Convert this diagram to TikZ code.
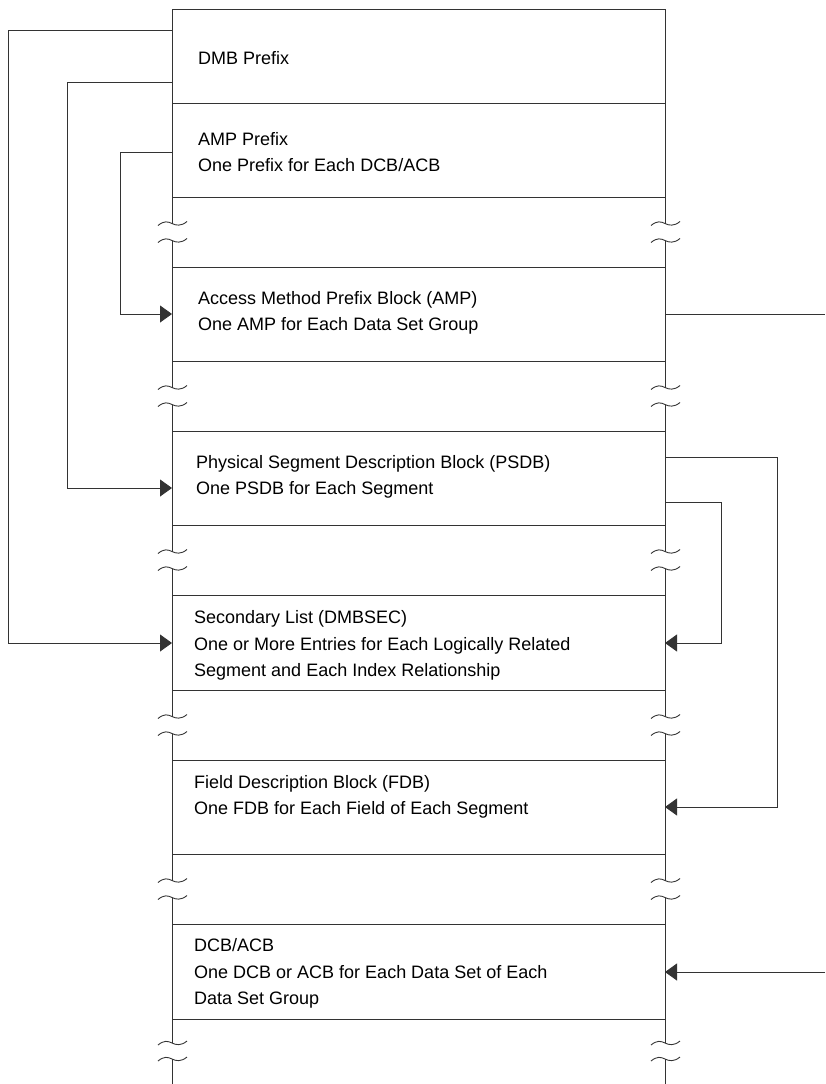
\documentclass[tikz,border=0pt]{standalone}
\usepackage{fontspec}
\setmainfont{Liberation Sans}
\usetikzlibrary{arrows.meta,calc}

\begin{document}
\begin{tikzpicture}[x=1pt,y=-1pt,
  ln/.style={draw=black!80,line width=0.9pt},
  blk/.style={ln,minimum width=493pt,minimum height=94pt,anchor=north west,inner sep=0pt,outer sep=0pt},
  lbl/.style={anchor=base west,align=left,inner sep=0pt,font=\fontsize{18}{26.5}\selectfont},
  ar/.style={ln,-{Triangle[length=12pt,width=17pt]}},
  brk/.pic={\draw[ln] (-14,2) .. controls (-8,-3) and (-4,-2) .. (0,0) .. controls (4,2) and (9,3) .. (15,-2);}]

 \useasboundingbox (0,0) rectangle (825,1084);

 % control blocks
 \node[blk] (dmb)  at (172,9)   {};
 \node[blk] (ampx) at (172,103) {};
 \node[blk] (amp)  at (172,267) {};
 \node[blk] (psdb) at (172,431) {};
 \node[blk,minimum height=95pt] (sec) at (172,595) {};
 \node[blk] (fdb)  at (172,760) {};
 \node[blk,minimum height=95pt] (dcb) at (172,924) {};

 % texts (placed at the baseline of the last line)
 \node[lbl] (tdmb)  at (198,64.5)  {DMB Prefix};
 \node[lbl] (tampx) at (198,171.5) {AMP Prefix\\One Prefix for Each DCB/ACB};
 \node[lbl] (tamp)  at (198,330.5) {Access Method Prefix Block (AMP)\\One AMP for Each Data Set Group};
 \node[lbl] (tpsdb) at (196,494.5) {Physical Segment Description Block (PSDB)\\One PSDB for Each Segment};
 \node[lbl] (tsec)  at (194,676.5) {Secondary List (DMBSEC)\\One or More Entries for Each Logically Related\\Segment and Each Index Relationship};
 \node[lbl] (tfdb)  at (194,814.5) {Field Description Block (FDB)\\One FDB for Each Field of Each Segment};
 \node[lbl] (tdcb)  at (194,1004.5) {DCB/ACB\\One DCB or ACB for Each Data Set of Each\\Data Set Group};

 % broken sides between blocks
 \foreach \a/\b in {ampx/amp,amp/psdb,psdb/sec,sec/fdb,fdb/dcb}
  \foreach \s in {west,east} {
   \path ($(\a.south \s)!0.5!(\b.north \s)$) coordinate (m);
   \draw[ln] (\a.south \s) -- ($(m)+(0,-8.5)$) pic{brk};
   \draw[ln] ($(m)+(0,8.5)$) pic{brk} -- (\b.north \s);
  }
 \foreach \s in {west,east} {
  \draw[ln] (dcb.south \s) -- ++(0,24) pic{brk};
  \draw[ln] ($(dcb.south \s)+(0,40)$) pic{brk} -- ++(0,25);
 }

 % pointers on the left
 \draw[ar] ($(dmb.north west)+(0,21)$) -- ++(-164,0) |- ($(sec.north west)+(0,48)$);
 \draw[ar] ($(dmb.north west)+(0,73)$) -- ++(-105,0) |- ($(psdb.north west)+(0,57)$);
 \draw[ar] ($(ampx.north west)+(0,49)$) -- ++(-52,0) |- ($(amp.north west)+(0,47)$);

 % pointers on the right
 \coordinate (out1) at (825,314);
 \coordinate (in1) at (825,972);
 \draw[ln] ($(amp.north east)+(0,47)$) -- (out1);
 \draw[ar] ($(psdb.north east)+(0,26)$) -- ++(112,0) |- ($(fdb.north east)+(0,47)$);
 \draw[ar] ($(psdb.north east)+(0,71)$) -- ++(56,0) |- ($(sec.north east)+(0,48)$);
 \draw[ar] (in1) -- ($(dcb.north east)+(0,48)$);
\end{tikzpicture}
\end{document}
